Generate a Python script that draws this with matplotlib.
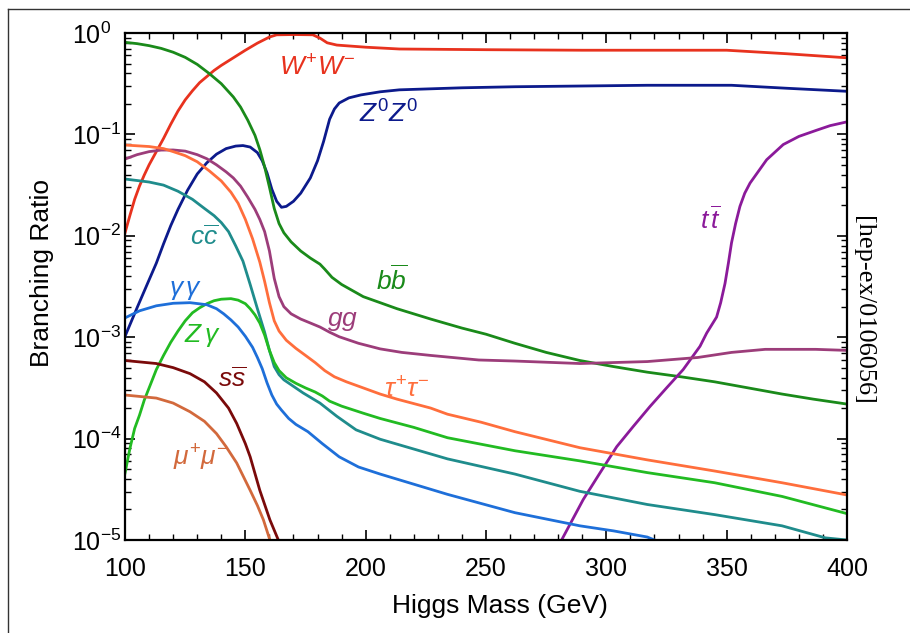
import numpy as np
import matplotlib
matplotlib.use("Agg")
import matplotlib.pyplot as plt
from matplotlib.lines import Line2D
from matplotlib.ticker import LogLocator, MultipleLocator

plt.rcParams['font.family'] = ['Liberation Sans', 'DejaVu Sans']
plt.rcParams['mathtext.fontset'] = 'custom'
plt.rcParams['mathtext.rm'] = 'Liberation Sans'
plt.rcParams['mathtext.it'] = 'Liberation Sans:italic'
plt.rcParams['mathtext.bf'] = 'Liberation Sans:bold'

# Branching ratios, per decay channel
m_bb = [100, 105, 110, 115, 120, 125, 130, 135, 140, 145, 148, 151, 154, 156, 158, 160, 162,
        164, 166, 169, 173, 177, 181, 183, 186, 190, 199, 206, 213, 227, 240, 250, 262, 275,
        289, 303, 317, 331, 345, 359, 373, 386, 400]
br_bb = [0.809, 0.785, 0.750, 0.705, 0.646, 0.575, 0.490, 0.398, 0.316, 0.234, 0.186, 0.138,
         0.0977, 0.0708, 0.0479, 0.0302, 0.0186, 0.0132, 0.0107, 0.00871, 0.00708, 0.00603,
         0.00525, 0.00468, 0.00389, 0.00331, 0.00251, 0.00219, 0.00191, 0.00151, 0.00123,
         0.00107, 0.000871, 0.000708, 0.000589, 0.000513, 0.000452, 0.000407, 0.000363,
         0.000316, 0.000275, 0.000245, 0.000219]

m_ww = [100, 102, 104, 106, 108, 110, 113, 116, 119, 122, 125, 128, 131, 134, 137, 140, 145,
        150, 155, 160, 163, 170, 178, 181, 184, 188, 200, 214, 250, 290, 350, 375, 400]
br_ww = [0.0107, 0.0158, 0.0229, 0.0309, 0.0398, 0.0501, 0.0676, 0.0912, 0.126, 0.170, 0.219,
         0.269, 0.324, 0.372, 0.427, 0.479, 0.569, 0.676, 0.794, 0.912, 0.959, 0.965, 0.96,
         0.89, 0.80, 0.76, 0.724, 0.695, 0.684, 0.676, 0.676, 0.624, 0.569]

m_zz = [100, 105, 109, 113, 116, 119, 122, 126, 130, 134, 138, 142, 146, 149, 152, 155, 157,
        159, 161, 163, 165, 167, 170, 173, 177, 180, 182.5, 185, 187, 189, 193, 198, 206, 214,
        240, 262, 317, 352, 375, 400]
br_zz = [0.00102, 0.00195, 0.00324, 0.00537, 0.00832, 0.0126, 0.0182, 0.0282, 0.0407, 0.0525,
         0.0638, 0.0724, 0.0767, 0.0776, 0.0750, 0.0661, 0.055, 0.0417, 0.0288, 0.0219, 0.0191,
         0.0195, 0.0219, 0.0263, 0.0372, 0.055, 0.0851, 0.141, 0.178, 0.204, 0.229, 0.245,
         0.263, 0.275, 0.288, 0.295, 0.305, 0.305, 0.285, 0.266]

m_tt = [281.4, 290.4, 297.3, 304.3, 311.2, 318.1, 325, 331.9, 338.9, 341.7, 345.8, 347.5, 349.3,
        350.7, 352, 353.7, 355.5, 357.5, 359.7, 366.6, 373.5, 380, 387.4, 393, 400]
br_tt = [1.0e-5, 2.51e-5, 4.57e-5, 8.32e-5, 1.32e-4, 2.07e-4, 3.16e-4, 4.79e-4, 8.13e-4,
         1.1e-3, 1.58e-3, 2.19e-3, 3.39e-3, 5.37e-3, 8.51e-3, 0.0132, 0.0195, 0.0263, 0.0331,
         0.0562, 0.0794, 0.0955, 0.110, 0.122, 0.133]

m_gg = [100, 105, 110, 115, 120, 125, 130, 134, 138, 142, 145, 148, 151, 154, 156, 158, 160,
        162, 164, 166, 169, 173, 177, 181, 185, 189, 197, 206, 215, 227, 247, 262, 289, 317,
        338, 352, 366, 387, 400]
br_gg = [0.0571, 0.0631, 0.0676, 0.070, 0.0702, 0.0684, 0.0631, 0.0575, 0.0501, 0.0427, 0.0372,
         0.0309, 0.024, 0.0182, 0.0145, 0.011, 0.00708, 0.0038, 0.00251, 0.0020, 0.0017,
         0.00151, 0.00138, 0.00126, 0.00112, 0.00101, 0.000871, 0.000767, 0.000708, 0.000661,
         0.000596, 0.000582, 0.000550, 0.000575, 0.000631, 0.000708, 0.000759, 0.000759,
         0.000741]

m_tau = [100, 110, 116, 120, 125, 130, 135, 140, 144, 147, 150, 153, 156, 158, 160, 162, 164,
         167, 171, 175, 179, 183, 187, 192, 199, 206, 213, 227, 234, 248, 262, 289, 317, 345,
         373, 400]
br_tau = [0.0785, 0.0759, 0.0724, 0.0676, 0.0617, 0.0537, 0.0437, 0.0347, 0.0269, 0.0209,
          0.0145, 0.00933, 0.0055, 0.00355, 0.00219, 0.00145, 0.00115, 0.000933, 0.000776,
          0.000661, 0.000562, 0.000468, 0.000407, 0.000363, 0.000316, 0.000275, 0.000245,
          0.000200, 0.000174, 0.000145, 0.000117, 8.13e-5, 6.17e-5, 4.79e-5, 3.67e-5, 2.78e-5]

m_cc = [100, 110, 116, 122, 128, 133, 137, 140, 143, 146, 149, 152, 155, 158, 160, 162, 164,
        166, 174, 181, 188, 196, 206, 234, 262, 289, 317, 345, 373, 391, 400]
br_cc = [0.0363, 0.0339, 0.0316, 0.0275, 0.0229, 0.0186, 0.0158, 0.0135, 0.011, 0.00794,
         0.00562, 0.00331, 0.00191, 0.00112, 0.000741, 0.000513, 0.000427, 0.00038, 0.000282,
         0.000224, 0.000166, 0.000122, 9.86e-5, 6.31e-5, 4.47e-5, 3.02e-5, 2.24e-5, 1.78e-5,
         1.38e-5, 1.05e-5, 1.0e-5]

m_aa = [100, 106, 113, 120, 127, 134, 138, 141, 144, 147, 150, 153, 155, 157, 159, 161, 163,
        165, 168, 171, 176, 182, 189, 197, 206, 234, 262, 289, 303, 317, 320]
br_aa = [0.00155, 0.00182, 0.00204, 0.00216, 0.00219, 0.00209, 0.00191, 0.00170, 0.00148,
         0.00126, 0.00102, 0.000794, 0.000631, 0.00049, 0.000355, 0.000269, 0.000219,
         0.000191, 0.000158, 0.000138, 0.000117, 8.91e-5, 6.61e-5, 5.25e-5, 4.47e-5, 2.82e-5,
         1.86e-5, 1.38e-5, 1.23e-5, 1.07e-5, 1.0e-5]

m_za = [100, 102, 104, 106, 108, 110, 113, 116, 119, 122, 125, 128, 131, 134, 137, 140, 144,
        147, 150, 152, 154, 156, 158, 160, 162, 164, 167, 171, 175, 179, 182, 185, 190, 199,
        206, 220, 234, 262, 289, 317, 345, 373, 400]
br_za = [4.57e-5, 7.94e-5, 1.26e-4, 1.70e-4, 2.40e-4, 3.16e-4, 4.79e-4, 6.61e-4, 8.91e-4,
         1.15e-3, 1.45e-3, 1.74e-3, 1.95e-3, 2.14e-3, 2.29e-3, 2.37e-3, 2.40e-3, 2.32e-3,
         2.14e-3, 1.91e-3, 1.66e-3, 1.38e-3, 1.05e-3, 7.41e-4, 5.62e-4, 4.68e-4, 3.98e-4,
         3.51e-4, 3.16e-4, 2.88e-4, 2.63e-4, 2.34e-4, 2.09e-4, 1.78e-4, 1.58e-4, 1.29e-4,
         1.02e-4, 7.59e-5, 6.03e-5, 4.62e-5, 3.67e-5, 2.69e-5, 1.82e-5]

m_ss = [100, 113, 120, 127, 133, 138, 143, 146.4, 150, 152, 156, 160.2, 163.7, 165]
br_ss = [5.89e-4, 5.5e-4, 5.01e-4, 4.37e-4, 3.63e-4, 2.82e-4, 2.0e-4, 1.41e-4, 8.91e-5, 6.61e-5,
         3.09e-5, 1.58e-5, 1.0e-5, 7.5e-6]

m_mumu = [100, 113, 120, 127, 133, 138, 142, 146.4, 152, 155, 157.5, 160.2, 161.5]
br_mumu = [2.69e-4, 2.51e-4, 2.24e-4, 1.84e-4, 1.48e-4, 1.12e-4, 8.32e-5, 5.75e-5, 3.09e-5,
           2.19e-5, 1.58e-5, 1.0e-5, 7.5e-6]

curves = [
    (m_ww, br_ww, '#e8321e', r'$W^{+}W^{-}$', 179.8, 0.452),
    (m_zz, br_zz, '#0c1a8c', r'$Z^{0}Z^{0}$', 209.3, 0.159),
    (m_bb, br_bb, '#1a8a1a', r'$b\overline{b}$', 210.9, 3.66e-3),
    (m_tt, br_tt, '#8b1a9a', r'$t\,\overline{t}$', 343.5, 0.0143),
    (m_gg, br_gg, '#9c3d7a', r'$gg$', 190.2, 1.44e-3),
    (m_tau, br_tau, '#ff6e3c', r'$\tau^{+}\tau^{-}$', 217.2, 3.0e-4),
    (m_cc, br_cc, '#1f8c8c', r'$c\overline{c}$', 132.8, 9.7e-3),
    (m_za, br_za, '#22bb22', r'$Z\,\gamma$', 132.0, 1.05e-3),
    (m_aa, br_aa, '#1e6fd9', r'$\gamma\,\gamma$', 125.3, 2.92e-3),
    (m_ss, br_ss, '#7a0a0a', r'$s\overline{s}$', 144.5, 3.8e-4),
    (m_mumu, br_mumu, '#d2693c', r'$\mu^{+}\mu^{-}$', 131.2, 6.4e-5),
]

fig = plt.figure(figsize=(9.1, 6.33), dpi=100)
ax = fig.add_axes([0.1374, 0.1469, 0.7934, 0.801])

for m, br, col, lab, lx, ly in curves:
    ax.plot(m, br, color=col, lw=2.0, solid_joinstyle='round')
    ax.text(lx, ly, lab, color=col, fontsize=19, ha='center', va='center')

ax.set_yscale('log')
ax.set_xlim(100, 400)
ax.set_ylim(1e-5, 1)
ax.xaxis.set_major_locator(MultipleLocator(50))
ax.xaxis.set_minor_locator(MultipleLocator(10))
ax.yaxis.set_major_locator(LogLocator(base=10, numticks=10))
ax.yaxis.set_minor_locator(LogLocator(base=10, subs=np.arange(2, 10), numticks=10))

for sp in ax.spines.values():
    sp.set_linewidth(1.6)
ax.tick_params(which='both', direction='in', top=True, right=True, labelsize=18)
ax.tick_params(which='major', length=7, width=1.2)
ax.tick_params(which='minor', length=4, width=1.0)
ax.tick_params(axis='x', pad=12)
ax.tick_params(axis='y', pad=38)
for lbl in ax.get_yticklabels():
    lbl.set_horizontalalignment('left')

fig.text(42 / 910, 1 - 273 / 633, 'Branching Ratio', rotation=90, fontsize=19,
         ha='center', va='center')
fig.text(500 / 910, 1 - 606 / 633, 'Higgs Mass (GeV)', fontsize=19, ha='center', va='center')
fig.text(863 / 910, 1 - 310 / 633, '[hep-ex/0106056]', rotation=270, fontsize=19,
         family='Liberation Serif', ha='center', va='center')

# thin frame on the top and left of the page
fig.add_artist(Line2D([8 / 910, 8 / 910], [0, 1 - 9 / 633], transform=fig.transFigure,
                      color='#333333', lw=1))
fig.add_artist(Line2D([8 / 910, 1], [1 - 9 / 633, 1 - 9 / 633], transform=fig.transFigure,
                      color='#333333', lw=1))

fig.savefig('out.png', dpi=100)
